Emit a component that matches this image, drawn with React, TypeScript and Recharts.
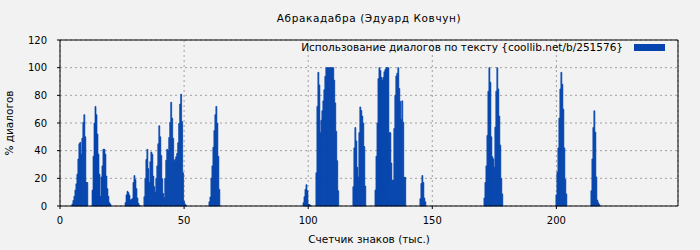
import { BarChart, Bar, XAxis, YAxis, CartesianGrid, ReferenceLine } from "recharts";

// character counter (thousands) for each measured slice of text
const charCounter = [
  5.0, 5.4, 5.8, 6.2, 6.6, 7.0, 7.4, 7.8, 8.2, 8.6, 9.0, 9.4, 9.8, 10.2, 10.6, 11.0,
  13.1, 13.5, 13.9, 14.3, 14.7, 15.1, 15.5, 15.9, 16.3, 16.7, 17.1, 17.5, 17.9, 18.3, 18.7, 19.1, 19.5, 19.9, 20.3,
  26.4, 26.8, 27.2, 27.6, 28.0, 28.4, 28.8, 29.2, 29.6, 30.0, 30.4, 30.8, 31.2, 31.6, 32.0,
  34.0, 34.4, 34.8, 35.2, 35.6, 36.0, 36.4, 36.8, 37.2, 37.6, 38.0, 38.4, 38.8, 39.2, 39.6, 40.0, 40.4, 40.8, 41.2, 41.6, 42.0, 42.4,
  42.8, 43.2, 43.6, 44.0, 44.4, 44.8, 45.2, 45.6, 46.0, 46.4, 46.8, 47.2, 47.6, 48.0, 48.4, 48.8, 49.2, 49.6, 50.0, 50.4, 50.8,
  60.2, 60.6, 61.0, 61.4, 61.8, 62.2, 62.6, 63.0, 63.4, 63.8, 64.2,
  98.1, 98.5, 98.9, 99.3, 99.7, 100.1, 100.5, 100.9,
  103.3, 103.7, 104.1, 104.5, 104.9, 105.3, 105.7, 106.1, 106.5, 106.9, 107.3, 107.7, 108.1, 108.5, 108.9, 109.3, 109.7, 110.1,
  110.5, 110.9, 111.3, 111.7, 112.1,
  118.2, 118.6, 119.0, 119.4, 119.8, 120.2, 120.6, 121.0, 121.4, 121.8, 122.2, 122.6, 123.0,
  127.1, 127.5, 127.9, 128.3, 128.7, 129.1, 129.5, 129.9, 130.3, 130.7, 131.1, 131.5, 131.9, 132.3, 132.7, 133.1, 133.5, 133.9,
  134.3, 134.7, 135.1, 135.5, 135.9, 136.3, 136.7, 137.1, 137.5, 137.9, 138.3, 138.7, 139.1,
  145.2, 145.6, 146.0, 146.4, 146.8, 147.2,
  171.0, 171.4, 171.8, 172.2, 172.6, 173.0, 173.4, 173.8, 174.2, 174.6, 175.0, 175.4, 175.8, 176.2, 176.6, 177.0, 177.4, 177.8, 178.2,
  200.0, 200.4, 200.8, 201.2, 201.6, 202.0, 202.4, 202.8, 203.2, 203.6, 204.0,
  214.1, 214.5, 214.9, 215.3, 215.7, 216.1, 216.5, 216.9, 217.3,
];

// % of dialogue at each counter position
const dialogShare = [
  1.5, 4, 7, 11.5, 16, 23, 34, 45, 46, 37.5, 49, 60.5, 66, 50, 17, 17,
  11.5, 36, 60, 72, 66, 52, 37.5, 23, 7, 21, 29, 41, 41, 37.5, 21.6, 12.5, 7, 2.4, 1.4,
  2.4, 8, 10.6, 9.6, 7.7, 4.3, 4.8, 5.3, 17, 22, 19, 12.5, 5.8, 2, 0.5,
  6.7, 20, 33.6, 41, 27, 17, 32, 39, 37.5, 21.6, 14, 10, 19.7, 29, 45, 58, 50, 36.5, 19.7, 9, 6, 20,
  33, 41, 40, 49.5, 60.5, 75, 63.5, 49, 32.7, 33.6, 35.6, 38, 45.7, 59.6, 73.7, 80.8, 61, 24, 3.4, 1.4, 0.5,
  3, 6.5, 20, 29, 42.5, 54.5, 66, 72, 60, 36, 12,
  2.4, 6.7, 12, 15.4, 11, 1.4, 1, 0.5,
  24, 72, 96.6, 87.5, 53, 62, 68.8, 76, 84, 93.8, 100, 100, 100, 100, 100, 100, 100, 100,
  91, 74.5, 54, 32.7, 11,
  14, 42, 56.7, 47, 28, 21, 53, 71.6, 69, 65, 60, 43, 14.4,
  11.5, 36, 60, 92, 100, 98, 93, 91, 93, 97, 98.6, 100, 100, 100, 53, 53, 31, 18.7,
  18.7, 56, 80, 94, 96, 100, 85, 75.5, 62.5, 76, 60.6, 20.7, 20.7,
  5.3, 16.3, 22, 17, 5.8, 3,
  5.8, 17, 29, 51, 83, 100, 89.4, 50, 35.6, 34, 28, 57, 83, 100, 84.6, 65, 44, 20, 8.7,
  8, 24.5, 42, 63.5, 84.6, 96.6, 88, 70, 42, 19.2, 8.7,
  11, 34, 56.7, 68.8, 53.4, 21, 4.3, 2.4, 1,
];

const xTicks = [0, 50, 100, 150, 200];
const yTicks = [0, 20, 40, 60, 80, 100, 120];

const chartData = charCounter.map((k, i) => ({ k, share: dialogShare[i] }));

const BAR_COLOR = "#0645ad";
const FONT = "'DejaVu Sans', sans-serif";
const tickStyle = { fontSize: 10, fill: "#000", fontFamily: FONT };
const labelStyle = { fontSize: 10.5, fill: "#000", fontFamily: FONT };

export default function App() {
  return (
    <div style={{ position: "absolute", left: 0, top: 0, width: 700, height: 250, background: "#f2f2f2", fontFamily: FONT }}>
      <div
        style={{
          position: "absolute",
          left: 60,
          top: 12,
          width: 618,
          textAlign: "center",
          fontSize: 10.5,
          letterSpacing: 0.6,
          lineHeight: "12px",
        }}>
        Абракадабра (Эдуард Ковчун)
      </div>
      <div
        style={{
          position: "absolute",
          left: 9,
          top: 123,
          fontSize: 10.5,
          lineHeight: "12px",
          whiteSpace: "nowrap",
          transform: "translate(-50%, -50%) rotate(-90deg)",
        }}>
        % диалогов
      </div>
      <BarChart width={700} height={250} data={chartData} margin={{ top: 40, right: 22, left: 0, bottom: 4 }} barCategoryGap={0}>
        <CartesianGrid stroke="#a0a0a0" strokeDasharray="2 3" />
        <XAxis
          dataKey="k"
          type="number"
          domain={[0, 249]}
          ticks={xTicks}
          interval={0}
          allowDataOverflow
          height={40}
          tickSize={3}
          tickMargin={8}
          tick={tickStyle}
          stroke="#000"
          axisLine={{ stroke: "#000" }}
          tickLine={{ stroke: "#000" }}
          label={{ value: "Счетчик знаков (тыс.)", position: "insideBottom", offset: 3, style: labelStyle }}
        />
        <YAxis
          type="number"
          domain={[0, 120]}
          ticks={yTicks}
          interval={0}
          width={60}
          tickSize={3}
          tickMargin={10}
          tick={tickStyle}
          axisLine={{ stroke: "#000" }}
          tickLine={{ stroke: "#000" }}
        />
        <ReferenceLine y={120} stroke="#000" />
        <ReferenceLine x={249} stroke="#000" />
        <Bar dataKey="share" fill={BAR_COLOR} stroke={BAR_COLOR} strokeWidth={0.7} isAnimationActive={false} />
      </BarChart>
      <div
        style={{
          position: "absolute",
          right: 35,
          top: 41,
          display: "flex",
          alignItems: "center",
          fontSize: 10.5,
          lineHeight: "12px",
          whiteSpace: "nowrap",
        }}>
        <span>Использование диалогов по тексту {"{coollib.net/b/251576}"}</span>
        <span style={{ display: "inline-block", width: 31, height: 7, background: BAR_COLOR, marginLeft: 11 }} />
      </div>
    </div>
  );
}
